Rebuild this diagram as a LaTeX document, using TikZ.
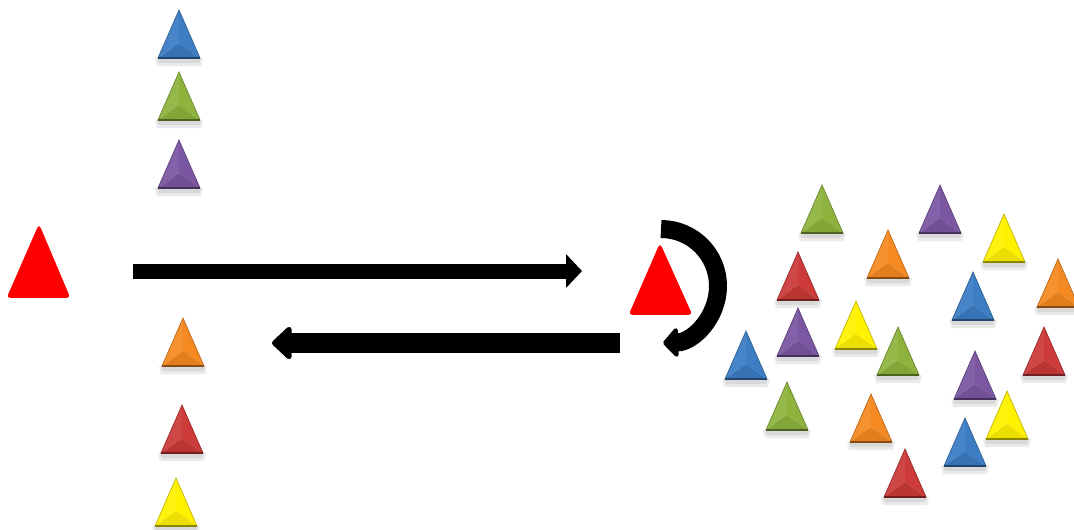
\documentclass[tikz,border=0pt]{standalone}
\usetikzlibrary{arrows.meta}
\definecolor{tblue}{HTML}{3C7DC4}
\definecolor{tgreen}{HTML}{8DB33D}
\definecolor{tpurple}{HTML}{7B57A2}
\definecolor{torange}{HTML}{F58A22}
\definecolor{tred}{HTML}{CC3A3A}
\definecolor{tyellow}{HTML}{FFF100}

\begin{document}
\begin{tikzpicture}[
        x=0.02cm, y=-0.02cm,
        bigred/.style={fill=red, draw=red, line width=1pt, rounded corners=1.5pt},
        flowarrow/.style={line width=#1},
        pics/gem/.style={code={
            % soft shadow under the base
            \fill[black, opacity=0.08] (-24,48) -- (24,48) -- (22,56) -- (-22,56) -- cycle;
            \fill[black, opacity=0.08] (-22,48) -- (22,48) -- (20,53) -- (-20,53) -- cycle;
            % bevelled faces
            \fill[#1!94!white] (0,0) -- (0,33) -- (-21,48) -- cycle;
            \fill[#1] (0,0) -- (21,48) -- (0,33) -- cycle;
            \fill[#1!92!black] (-21,48) -- (0,33) -- (21,48) -- cycle;
            \draw[#1!75!black, line width=0.4pt] (0,0) -- (21,48) -- (-21,48) -- cycle;
            \draw[#1!55!black, line width=0.8pt] (-21,48) -- (21,48);
        }}
    ]
    \useasboundingbox (0,0) rectangle (1074,529);

    % the two red triangles
    \fill[bigred] (39,226) -- (69,297) -- (8,297) -- cycle;
    \fill[bigred] (660,245) -- (691,314) -- (630,314) -- cycle;

    % arrow ends
    \coordinate (fwdstart) at (133,271);
    \coordinate (fwdend) at (582,271);
    \coordinate (backstart) at (620,343);
    \coordinate (backend) at (272,343);
    \coordinate (loopstart) at (661,229);

    % arrows
    \draw[flowarrow=0.3cm, -{Triangle[length=0.32cm, width=0.66cm]}] (fwdstart) -- (fwdend);
    \draw[flowarrow=0.39cm, -{Triangle[length=0.42cm, width=0.76cm, round]}] (backstart) -- (backend);
    \draw[flowarrow=0.36cm, -{Triangle[length=0.32cm, width=0.68cm, round]}]
        (loopstart) arc[start angle=90, end angle=-88, radius=1.14cm];

    % column on the left
    \foreach \x/\y/\c in {179/10/tblue, 179/72/tgreen, 179/140/tpurple,
                          183/318/torange, 182/405/tred, 176/478/tyellow}
        \pic at (\x,\y) {gem=\c};

    % scattered group on the right
    \foreach \x/\y/\c in {822/185/tgreen, 940/185/tpurple, 1004/214/tyellow,
                          888/230/torange, 798/252/tred, 1058/259/torange,
                          973/272/tblue, 798/308/tpurple, 856/301/tyellow,
                          898/327/tgreen, 746/331/tblue, 1044/327/tred,
                          975/351/tpurple, 787/382/tgreen, 871/394/torange,
                          1007/391/tyellow, 965/418/tblue, 905/449/tred}
        \pic at (\x,\y) {gem=\c};
\end{tikzpicture}
\end{document}
